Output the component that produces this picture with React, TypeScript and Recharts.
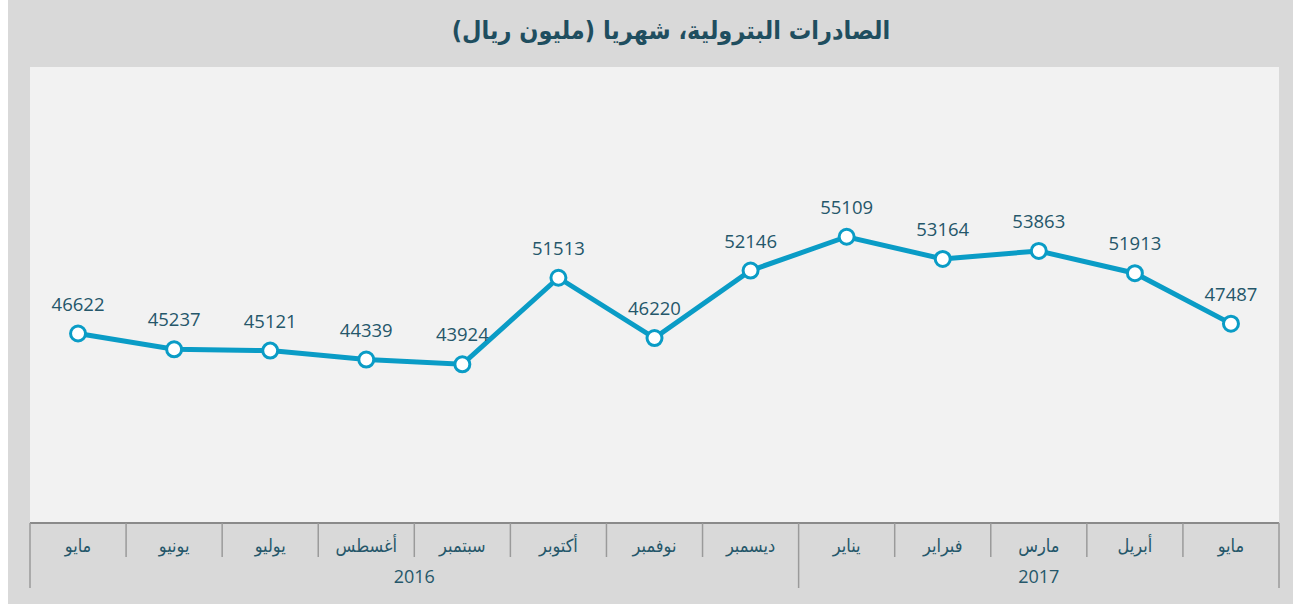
import React from 'react';
import { LineChart, Line, XAxis, YAxis, CartesianGrid, LabelList } from 'recharts';

const months = ['مايو', 'يونيو', 'يوليو', 'أغسطس', 'سبتمبر', 'أكتوبر', 'نوفمبر', 'ديسمبر', 'يناير', 'فبراير', 'مارس', 'أبريل', 'مايو'];
const exportsValues = [46622, 45237, 45121, 44339, 43924, 51513, 46220, 52146, 55109, 53164, 53863, 51913, 47487];
const yearLabels = ['2016', '2017'];
const yearStartIndex = [0, 8];
const yearLabelIndex = [4, 10];
const yearLabelAtEdge = [true, false];

const data = months.map((m, i) => ({ month: m, value: exportsValues[i] }));

const W = 1285;
const H = 604;
const M = { top: 67, right: 14, left: 22, bottom: 0 };
const PLOT_W = W - M.left - M.right;
const BAND = PLOT_W / months.length;
const TEXT = '#25576a';
const LINE = '#0a9cc6';
const SEP = '#9a9a9a';

const MonthTick = (props: any) => {
  const { x, y, payload, index } = props;
  const left = x - BAND / 2;
  const right = x + BAND / 2;
  const isYearStart = yearStartIndex.includes(index);
  const last = index === months.length - 1;
  const yi = yearLabelIndex.indexOf(index);
  return (
    <g>
      <line x1={left} x2={left} y1={y} y2={y + (isYearStart ? 65 : 34)} stroke={SEP} strokeWidth={1.5} />
      {last && <line x1={right} x2={right} y1={y} y2={y + 65} stroke={SEP} strokeWidth={1.5} />}
      <text x={x} y={y + 29} textAnchor="middle" fill={TEXT} fontSize={18} fontFamily="DejaVu Sans Condensed">
        {payload.value}
      </text>
      {yi >= 0 && (
        <text x={yearLabelAtEdge[yi] ? left : x} y={y + 60} textAnchor="middle" fill={TEXT} fontSize={18} fontFamily="Open Sans">
          {yearLabels[yi]}
        </text>
      )}
    </g>
  );
};

const ValueLabel = (props: any) => {
  const { x, y, value } = props;
  return (
    <text x={x} y={y - 23} textAnchor="middle" fill={TEXT} fontSize={18.5} fontFamily="Open Sans">
      {value}
    </text>
  );
};

export default function App() {
  return (
    <div style={{ position: 'absolute', left: 8, top: 0, width: W, height: H, background: '#d9d9d9' }}>
      <LineChart width={W} height={H} data={data} margin={M}>
        <text x={663} y={39} textAnchor="middle" fill="#1f4e5f" fontSize={25} fontWeight="bold" fontFamily="DejaVu Sans Condensed">
          الصادرات البترولية، شهريا (مليون ريال)
        </text>
        <CartesianGrid fill="#f2f2f2" horizontal={false} vertical={false} />
        <XAxis
          dataKey="month"
          height={81}
          interval={0}
          padding={{ left: BAND / 2, right: BAND / 2 }}
          tickLine={false}
          tickSize={0}
          tickMargin={0}
          axisLine={{ stroke: '#8a8a8a', strokeWidth: 2 }}
          tick={<MonthTick />}
        />
        <YAxis hide domain={[30000, 70000]} />
        <Line
          dataKey="value"
          stroke={LINE}
          strokeWidth={5}
          isAnimationActive={false}
          dot={{ r: 7.5, fill: '#ffffff', stroke: LINE, strokeWidth: 3 }}
          activeDot={false}
        >
          <LabelList dataKey="value" content={<ValueLabel />} />
        </Line>
      </LineChart>
    </div>
  );
}
